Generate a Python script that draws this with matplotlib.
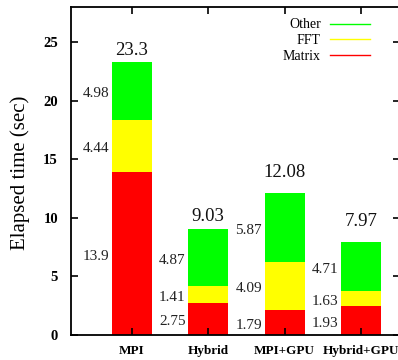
import matplotlib.pyplot as plt
from matplotlib.lines import Line2D

plt.rcParams['font.family'] = ['Liberation Serif', 'DejaVu Serif']

# data
configs = ['MPI', 'Hybrid', 'MPI+GPU', 'Hybrid+GPU']
matrix = [13.9, 2.75, 2.12, 2.45]
fft = [4.44, 1.41, 4.09, 1.28]
other = [4.98, 4.87, 5.87, 4.24]
# the printed numbers (not always equal to the bar heights)
matrix_txt = ['13.9', '2.75', '1.79', '1.93']
fft_txt = ['4.44', '1.41', '4.09', '1.63']
other_txt = ['4.98', '4.87', '5.87', '4.71']
total_txt = ['23.3', '9.03', '12.08', '7.97']

# layout
total_pad = [0.58, 0.73, 1.38, 1.33]
bar_w = 0.52
c_matrix, c_fft, c_other = '#ff0000', '#ffff00', '#00ff00'

fig = plt.figure(figsize=(3.98, 3.60), dpi=100)
ax = fig.add_axes([70.5 / 398, 25 / 360, 329 / 398, 328.3 / 360])

x = list(range(len(configs)))
bot2 = [m + f for m, f in zip(matrix, fft)]
tops = [b + o for b, o in zip(bot2, other)]

ax.bar(x, matrix, bar_w, color=c_matrix, linewidth=0)
ax.bar(x, fft, bar_w, bottom=matrix, color=c_fft, linewidth=0)
ax.bar(x, other, bar_w, bottom=bot2, color=c_other, linewidth=0)

for i in x:
    mids = [matrix[i] / 2, matrix[i] + fft[i] / 2, bot2[i] + other[i] / 2]
    for txt, m in zip([matrix_txt[i], fft_txt[i], other_txt[i]], mids):
        ax.annotate(txt, xy=(i - bar_w / 2, m), xytext=(-2, -2),
                    textcoords='offset points', ha='right', va='center',
                    fontsize=11, color='#222222')
    ax.text(i, tops[i] + total_pad[i], total_txt[i], ha='center',
            va='baseline', fontsize=13.5, color='#111111')

ax.set_xlim(-0.8, 3.5)
ax.set_ylim(0, 28)
ax.set_yticks([0, 5, 10, 15, 20, 25])
ax.set_xticks(x)
ax.set_xticklabels(configs)
ax.tick_params(direction='in', length=5, width=1.2, top=True, right=True)
ax.tick_params(axis='y', pad=9, labelsize=10.5)
ax.tick_params(axis='x', pad=7, labelsize=9.5)
for lab in ax.get_xticklabels() + ax.get_yticklabels():
    lab.set_fontweight('bold')
for sp in ax.spines.values():
    sp.set_linewidth(1.3)

fig.text(20 / 398, 1 - 172.5 / 360, 'Elapsed time (sec)', rotation=90,
         ha='center', va='center', fontsize=15)

handles = [Line2D([], [], color=c_other, lw=1),
           Line2D([], [], color=c_fft, lw=1),
           Line2D([], [], color=c_matrix, lw=1)]
ax.legend(handles, ['Other', 'FFT', 'Matrix'], loc='upper right',
          bbox_to_anchor=(370 / 398, 1 - 18.5 / 360),
          bbox_transform=fig.transFigure, frameon=False, markerfirst=False,
          fontsize=10, handlelength=2.9, handletextpad=0.65, labelspacing=0.2,
          borderpad=0, borderaxespad=0)

fig.savefig('out.png', dpi=100)
